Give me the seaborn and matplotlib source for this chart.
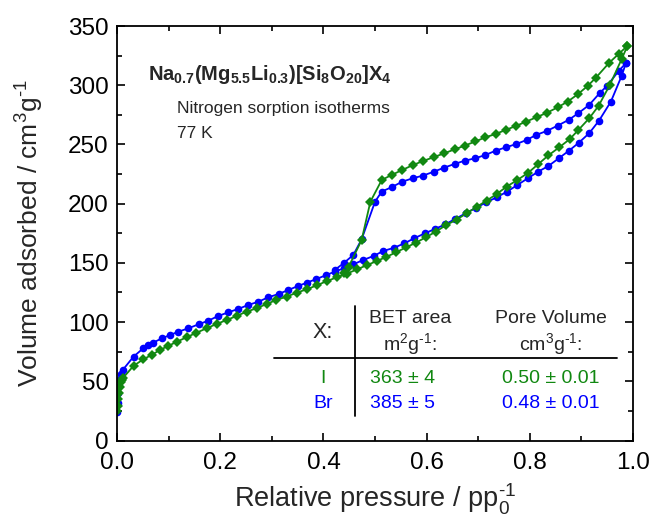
import matplotlib
matplotlib.use("Agg")
import matplotlib.pyplot as plt
from matplotlib.ticker import MultipleLocator
import seaborn as sns
import pandas as pd

# ---- data: N2 sorption isotherms at 77 K ----
# X = I (green diamonds)
i_ads_p = [0.0005, 0.001, 0.002, 0.003, 0.005, 0.007, 0.009, 0.012, 0.032, 0.051,
           0.067, 0.083, 0.099, 0.116, 0.135, 0.154, 0.174, 0.193, 0.213, 0.232,
           0.251, 0.271, 0.290, 0.309, 0.329, 0.348, 0.368, 0.387, 0.406, 0.426,
           0.445, 0.465, 0.484, 0.503, 0.522, 0.541, 0.560, 0.579, 0.598, 0.618,
           0.638, 0.658, 0.678, 0.697, 0.716, 0.736, 0.755, 0.776, 0.797, 0.816,
           0.836, 0.857, 0.877, 0.894, 0.915, 0.933, 0.955, 0.978, 0.989]
i_ads_v = [24.5, 29, 35, 40, 45, 49, 51, 53, 63, 68.6,
           72.2, 76.4, 79.8, 83.4, 87.2, 91.0, 94.8, 98.4, 101.8, 105.2,
           108.8, 111.7, 115.3, 118.7, 121.5, 124.8, 127.7, 131.0, 134.5, 137.8,
           140.8, 144.5, 148.0, 151.5, 155.0, 159.0, 163.0, 167.0, 171.5, 176.4,
           182.0, 186.5, 192.0, 197.3, 202.5, 208.2, 214.4, 220.0, 226.2, 233.3,
           240.8, 247.6, 254.4, 262.2, 272.1, 282.5, 300.3, 322.2, 333.2]
i_des_p = [0.989, 0.972, 0.954, 0.928, 0.912, 0.893, 0.873, 0.854, 0.834, 0.813,
           0.793, 0.773, 0.753, 0.734, 0.714, 0.694, 0.674, 0.654, 0.634, 0.614,
           0.593, 0.573, 0.553, 0.532, 0.513, 0.491, 0.474, 0.449, 0.440]
i_des_v = [333.2, 326.4, 319.1, 306.4, 299.4, 292.4, 286.1, 281.4, 276.9, 273.0,
           269.3, 265.6, 262.2, 258.9, 256.0, 252.5, 249.0, 245.8, 242.5, 239.3,
           236.0, 232.5, 228.5, 224.2, 220.0, 201.7, 169.3, 146.8, 141.5]

# X = Br (blue circles)
br_ads_p = [0.0005, 0.001, 0.002, 0.003, 0.005, 0.008, 0.011, 0.032, 0.051, 0.060,
            0.070, 0.087, 0.103, 0.119, 0.138, 0.158, 0.177, 0.196, 0.216, 0.235,
            0.254, 0.274, 0.293, 0.313, 0.332, 0.351, 0.368, 0.386, 0.405, 0.422,
            0.440, 0.458, 0.477, 0.497, 0.516, 0.537, 0.557, 0.576, 0.597, 0.616,
            0.636, 0.655, 0.676, 0.696, 0.715, 0.736, 0.756, 0.776, 0.796, 0.816,
            0.836, 0.856, 0.876, 0.895, 0.915, 0.934, 0.957, 0.978, 0.986]
br_ads_v = [24, 32, 40, 46, 52, 56.5, 59.5, 70.8, 77.9, 80.3,
            82.6, 86.3, 89.1, 91.9, 94.7, 98.1, 101.2, 105.1, 108.3, 111.1,
            114.4, 117.2, 120.9, 123.7, 127.1, 130.5, 133.3, 136.3, 139.6, 142.6,
            145.5, 148.8, 152.4, 155.8, 160.0, 162.8, 166.5, 170.8, 175.0, 178.6,
            182.5, 187.0, 191.9, 196.6, 201.0, 205.4, 210.2, 215.8, 221.4, 227.0,
            231.8, 238.3, 244.8, 251.5, 259.5, 270.1, 286.2, 308.1, 318.6]
br_des_p = [0.986, 0.972, 0.950, 0.935, 0.915, 0.894, 0.875, 0.854, 0.833, 0.812,
            0.794, 0.774, 0.754, 0.734, 0.714, 0.694, 0.674, 0.654, 0.634, 0.614,
            0.593, 0.573, 0.553, 0.532, 0.513, 0.500, 0.474, 0.458, 0.439, 0.422]
br_des_v = [318.6, 312.0, 299.7, 293.2, 283.4, 276.4, 270.7, 265.9, 261.4, 258.0,
            253.8, 250.4, 247.6, 244.8, 241.1, 238.3, 236.3, 233.5, 230.4, 227.0,
            223.7, 221.4, 218.6, 213.9, 210.2, 201.7, 169.9, 156.7, 149.7, 144.0]

# table values
samples = ["I", "Br"]
bet_area = ["363 ± 4", "385 ± 5"]
pore_volume = ["0.50 ± 0.01", "0.48 ± 0.01"]

GREEN = "#118811"
BLUE = "#0000ff"
HY = "\u2010"  # short hyphen used in the unit exponents

sns.set_theme(style="ticks")
plt.rcParams["font.family"] = ["Liberation Sans", "DejaVu Sans"]
plt.rcParams["mathtext.fontset"] = "custom"
plt.rcParams["mathtext.rm"] = "Liberation Sans"
plt.rcParams["mathtext.it"] = "Liberation Sans:italic"
plt.rcParams["mathtext.bf"] = "Liberation Sans:bold"

fig = plt.figure(figsize=(6.5, 5.18), dpi=100)
ax = fig.add_axes([0.18, 0.1496, 0.794, 0.8002])

curves = [
    (br_ads_p, br_ads_v, BLUE, "o", 5.5),
    (br_des_p, br_des_v, BLUE, "o", 5.5),
    (i_ads_p, i_ads_v, GREEN, "D", 4.6),
    (i_des_p, i_des_v, GREEN, "D", 4.6),
]
for p, v, col, mk, ms in curves:
    df = pd.DataFrame({"p": p, "v": v})
    sns.lineplot(data=df, x="p", y="v", sort=False, estimator=None, ax=ax,
                 color=col, marker=mk, markersize=ms, markeredgewidth=0,
                 linewidth=1.3)

ax.set_xlim(0, 1.0)
ax.set_ylim(0, 350)
ax.xaxis.set_major_locator(MultipleLocator(0.2))
ax.xaxis.set_minor_locator(MultipleLocator(0.1))
ax.yaxis.set_major_locator(MultipleLocator(50))
ax.yaxis.set_minor_locator(MultipleLocator(25))
ax.xaxis.set_major_formatter(plt.FormatStrFormatter("%.1f"))
ax.tick_params(which="both", direction="in", top=True, right=True,
               width=1.2, colors="black", labelsize=17.5, pad=6)
ax.tick_params(axis="x", which="major", pad=8)
ax.tick_params(which="major", length=6)
ax.tick_params(which="minor", length=3.5)
for s in ax.spines.values():
    s.set_visible(True)
    s.set_linewidth(1.3)
    s.set_color("black")

ax.set_xlabel(r"Relative pressure / pp$_0^{" + HY + "1}$", fontsize=19.5, labelpad=6)
ax.set_ylabel(r"Volume adsorbed / cm$^3$g$^{" + HY + "1}$", fontsize=19, labelpad=16)

# header text
ax.text(0.060, 304.5, r"$\mathbf{Na_{0.7}(Mg_{5.5}Li_{0.3})[Si_{8}O_{20}]X_{4}}$",
        fontsize=14.5, va="baseline", ha="left")
ax.text(0.116, 276.6, "Nitrogen sorption isotherms", fontsize=12.5, va="baseline")
ax.text(0.116, 255.5, "77 K", fontsize=12.5, va="baseline")

# summary table
ax.axvline(0.461, ymin=20.7 / 350, ymax=113.6 / 350, color="black", lw=1.3)
ax.axhline(69.9, xmin=0.304, xmax=0.969, color="black", lw=1.3)
ax.text(0.399, 90.8, "X:", fontsize=15.5, ha="center", va="center")
ax.text(0.568, 99.5, "BET area", fontsize=14, ha="center", va="baseline")
ax.text(0.568, 76.4, r"m$^2$g$^{" + HY + "1}$:", fontsize=14, ha="center", va="baseline")
ax.text(0.841, 99.5, "Pore Volume", fontsize=14, ha="center", va="baseline")
ax.text(0.841, 76.4, r"cm$^3$g$^{" + HY + "1}$:", fontsize=14, ha="center", va="baseline")
for name, bet, pv, yb, col in zip(samples, bet_area, pore_volume,
                                  [48.8, 27.4], [GREEN, BLUE]):
    ax.text(0.399, yb, name, fontsize=14, ha="center", va="baseline", color=col)
    ax.text(0.490, yb, bet, fontsize=14, ha="left", va="baseline", color=col)
    ax.text(0.841, yb, pv, fontsize=14, ha="center", va="baseline", color=col)

fig.savefig("out.png", dpi=100)
